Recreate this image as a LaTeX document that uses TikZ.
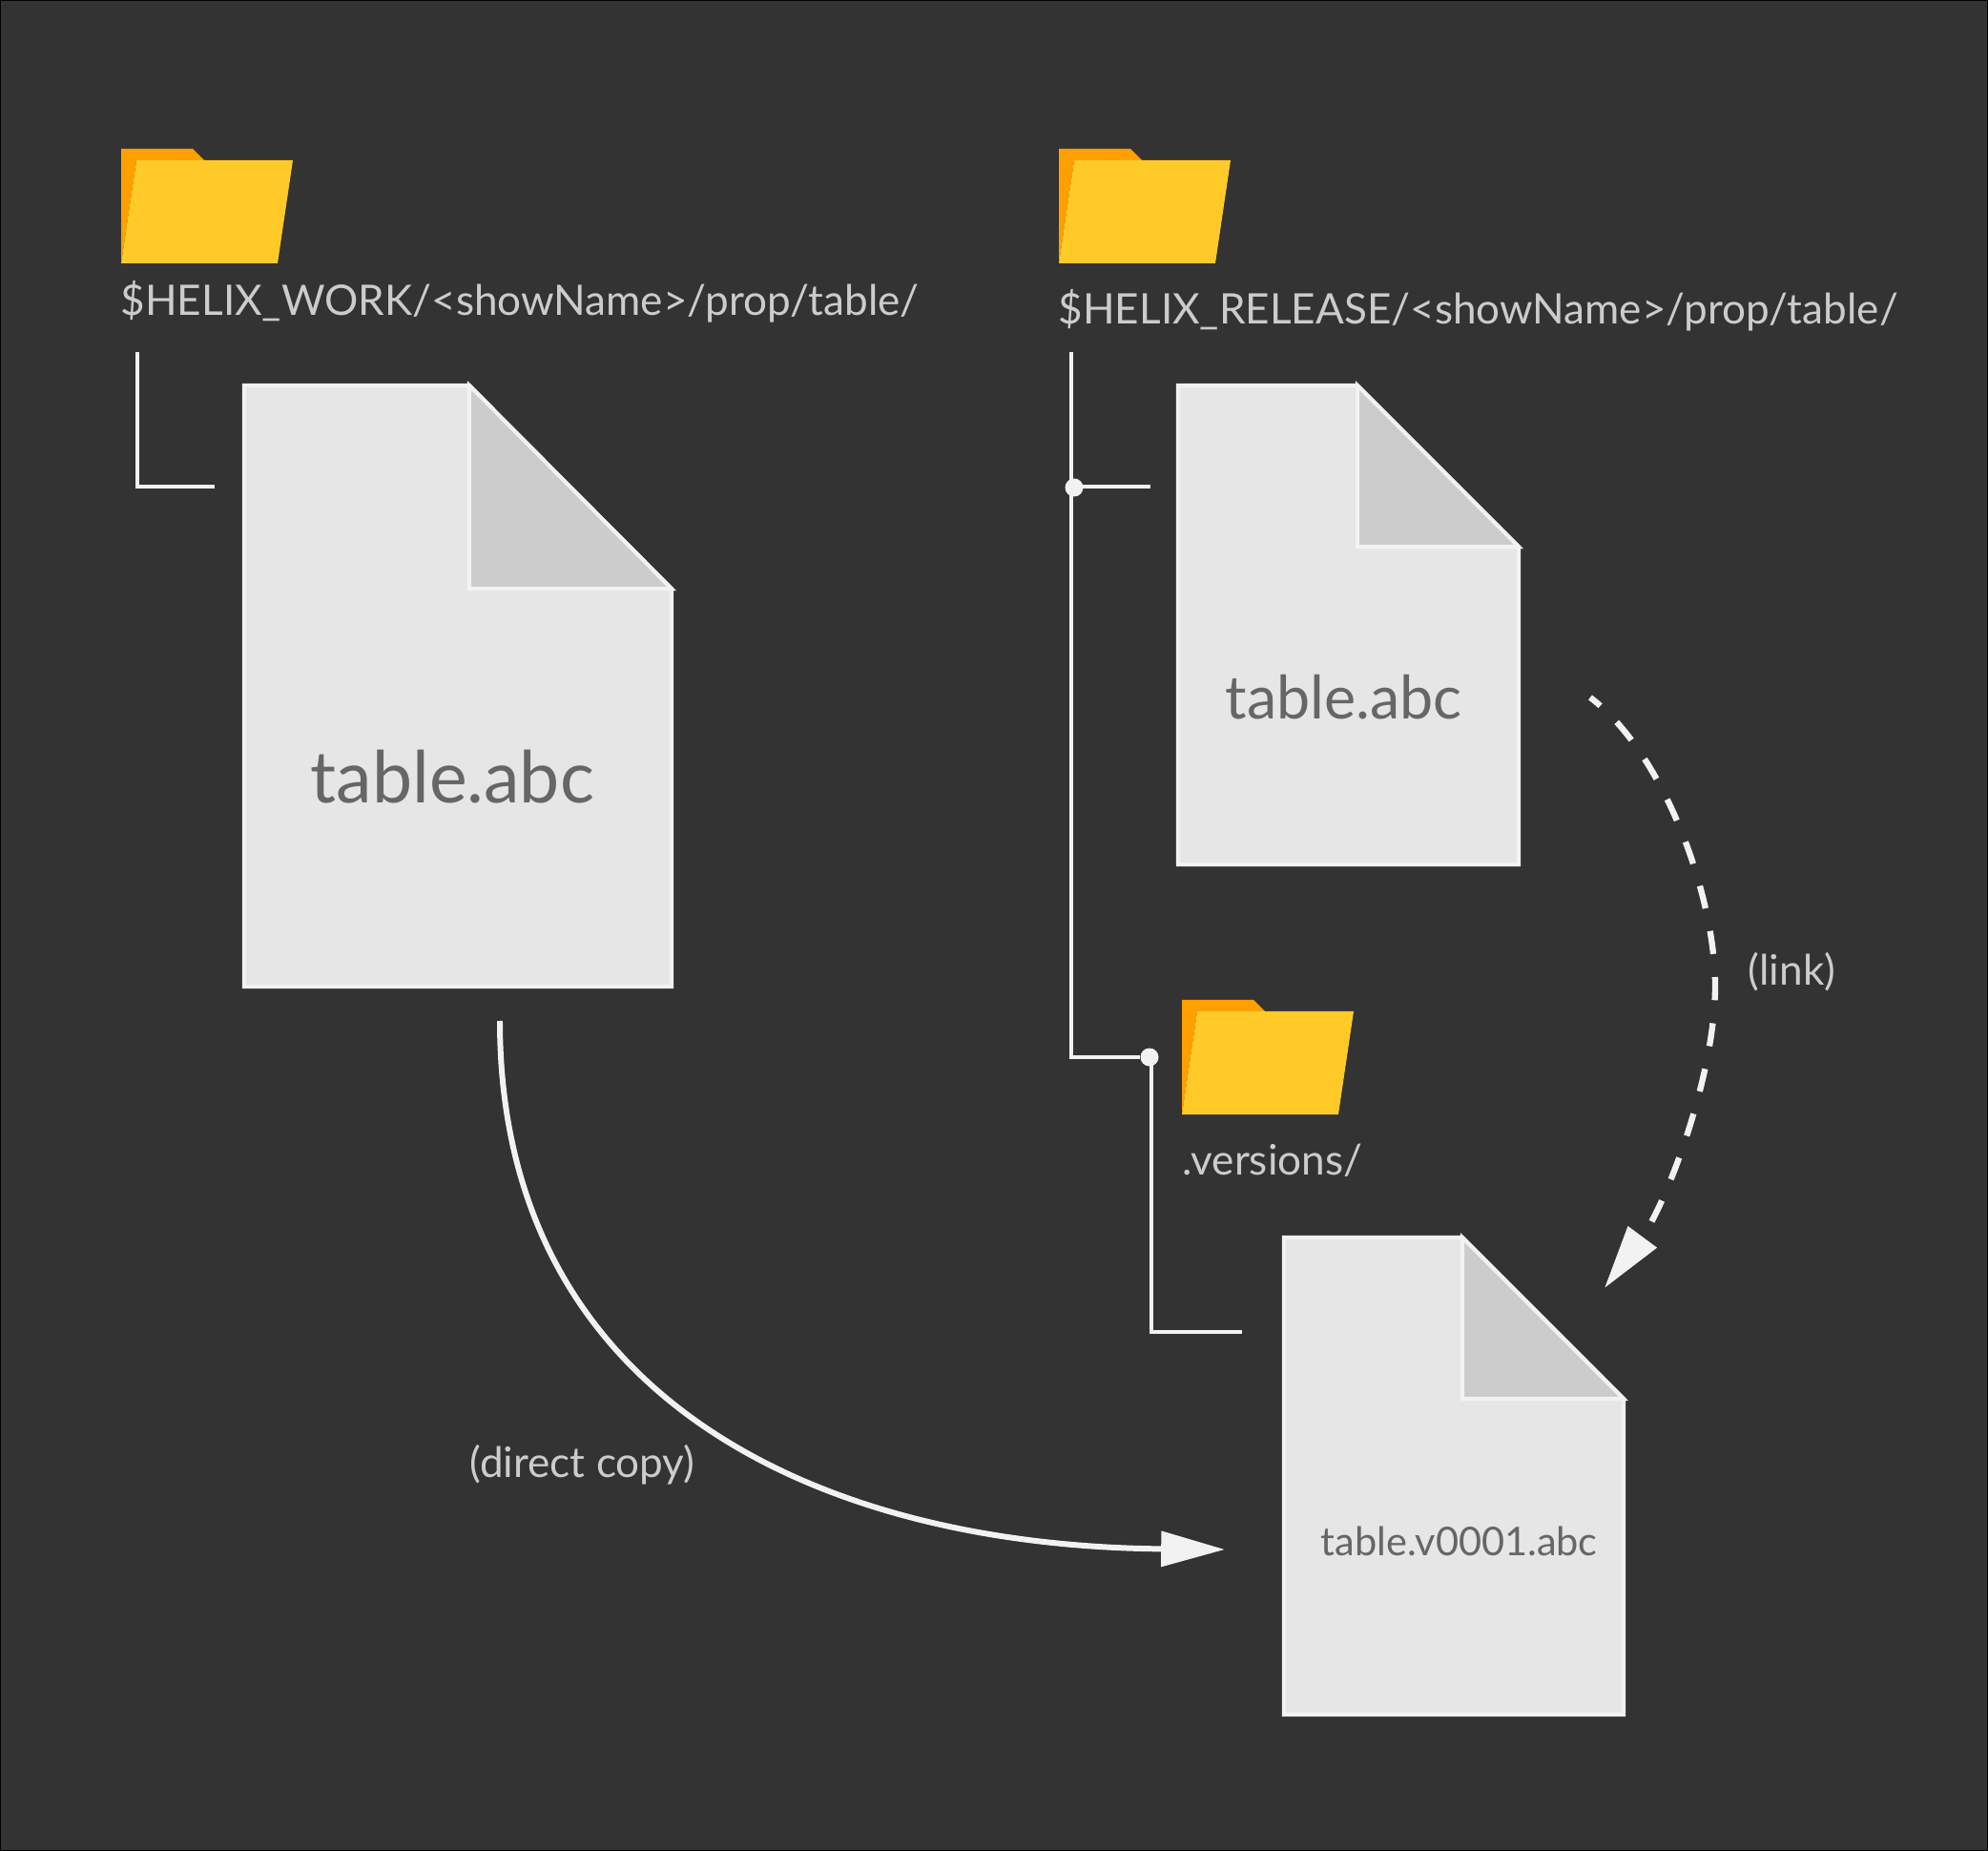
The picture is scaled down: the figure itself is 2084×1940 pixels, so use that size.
\documentclass[tikz,border=0pt]{standalone}
\usepackage{fontspec}
\setmainfont{Lato}
\usetikzlibrary{arrows.meta}
\definecolor{bgdark}{HTML}{333333}
\definecolor{pagefill}{HTML}{E6E6E6}
\definecolor{foldfill}{HTML}{CCCCCC}
\definecolor{strokelight}{HTML}{F2F2F2}
\definecolor{labelgray}{HTML}{CCCCCC}
\definecolor{doctext}{HTML}{666666}
\definecolor{folderfront}{HTML}{FFCA28}
\definecolor{folderback}{HTML}{FFA000}
\tikzset{
    docpage/.style={draw=strokelight, fill=pagefill, line width=1.15pt, line join=miter},
    docfold/.style={draw=strokelight, fill=foldfill, line width=1.15pt},
    pathlabel/.style={anchor=base west, inner sep=0pt, text=labelgray, font=\fontsize{12.53}{15}\selectfont},
    doclabel/.style={anchor=base west, inner sep=0pt, text=doctext},
    treeline/.style={draw=strokelight, line width=1.15pt},
    treedot/.style={circle, fill=strokelight, inner sep=0pt, minimum size=5.4pt},
    curvearrow/.style={draw=strokelight, line width=1.7pt, -{Triangle[length=19pt, width=10.3pt, fill=strokelight]}},
}
\begin{document}
\begin{tikzpicture}[x=0.01cm, y=-0.01cm]
    \useasboundingbox (0,0) rectangle (2084,1940);
    \draw[black, fill=bgdark, line width=0.6pt] (0,0) rectangle (2084,1940);

    % folders
    \foreach \x/\y in {127/156, 1110/156, 1239/1048}{
        \fill[folderback] (\x,\y) -- ++(75,0) -- ++(12,12) -- ++(-71,0) -- ++(-16,108) -- cycle;
        \fill[folderfront] (\x,\y) ++(16,12) -- ++(164,0) -- ++(-16,108) -- ++(-164,0) -- cycle;
    }
    \node[pathlabel] (workpath) at (126,331) {\$HELIX\_WORK/<showName>/prop/table/};
    \node[pathlabel] (releasepath) at (1109,340) {\$HELIX\_RELEASE/<showName>/prop/table/};
    \node[pathlabel] (versionspath) at (1239,1231) {.versions/};

    % files
    \draw[docpage] (256,404) -- (492,404) -- (704,617) -- (704,1034) -- (256,1034) -- cycle;
    \draw[docfold] (492,404) -- (704,617) -- (492,617) -- cycle;
    \node[doclabel, font=\fontsize{21.4}{26}\selectfont] (workfile) at (325,842) {table.abc};

    \draw[docpage] (1235,404) -- (1423,404) -- (1592,573) -- (1592,906) -- (1235,906) -- cycle;
    \draw[docfold] (1423,404) -- (1592,573) -- (1423,573) -- cycle;
    \node[doclabel, font=\fontsize{17.85}{22}\selectfont] (releasefile) at (1284,754) {table.abc};

    \draw[docpage] (1346,1297) -- (1533,1297) -- (1702,1466) -- (1702,1797) -- (1346,1797) -- cycle;
    \draw[docfold] (1533,1297) -- (1702,1466) -- (1533,1466) -- cycle;
    \node[doclabel, font=\fontsize{11.8}{14}\selectfont] (versionfile) at (1384,1630) {table.v0001.abc};

    % tree lines
    \coordinate (worktop) at (144,369);
    \coordinate (workend) at (225,510);
    \coordinate (reltop) at (1123,369);
    \coordinate (relcorner) at (1123,1108);
    \coordinate (relend) at (1206,510);
    \coordinate (verend) at (1302,1396);
    \node[treedot] (reldot) at (1126,511) {};
    \node[treedot] (verdot) at (1205,1108) {};
    \draw[treeline] (worktop) |- (workend);
    \draw[treeline] (reltop) -- (relcorner) -- (verdot);
    \draw[treeline] (reldot.center) ++(0,-1) -- (relend);
    \draw[treeline] (verdot.center) ++(2,0) |- (verend);

    % arrows
    \coordinate (copystart) at (524,1070);
    \coordinate (copyend) at (1284,1624);
    \coordinate (linkstart) at (1667,731);
    \coordinate (linkmid) at (1798,1033);
    \coordinate (linkend) at (1682,1350);
    \draw[curvearrow] (copystart) .. controls (524,1460) and (850,1620) .. (copyend);
    \draw[curvearrow, line width=1.8pt, dash pattern=on 6.9pt off 6.9pt, dash phase=3pt] (linkstart) .. controls (1745,790) and (1798,940) .. (linkmid)
        .. controls (1798,1130) and (1745,1265) .. (linkend);

    \node[pathlabel] (linklabel) at (1832,1032) {(link)};
    \node[pathlabel] (copylabel) at (492,1548) {(direct copy)};
\end{tikzpicture}
\end{document}
